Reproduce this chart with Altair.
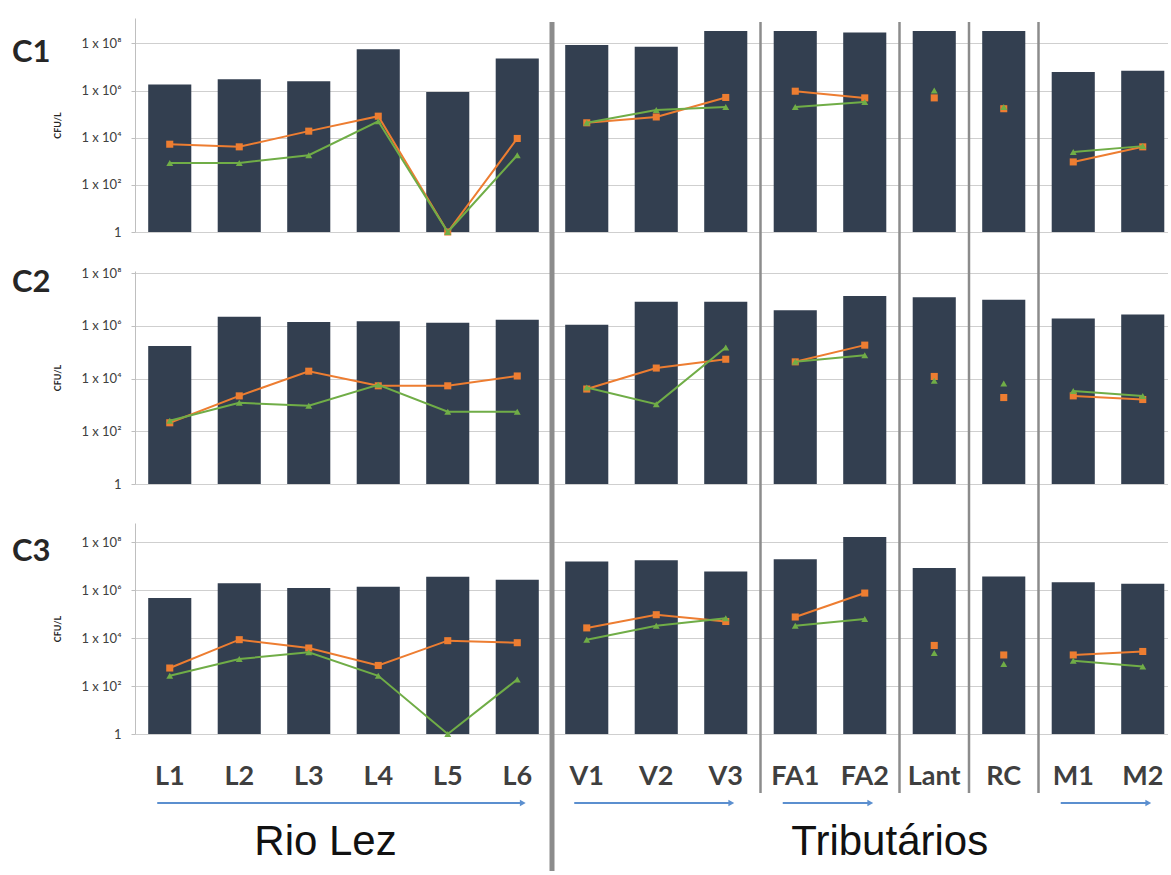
import altair as alt
import pandas as pd

# Sampling sites, their stream group and region
sites = ["L1", "L2", "L3", "L4", "L5", "L6", "V1", "V2", "V3",
         "FA1", "FA2", "Lant", "RC", "M1", "M2"]
groups = ["L", "L", "L", "L", "L", "L", "V", "V", "V",
          "FA", "FA", "Lant", "RC", "M", "M"]
regions = ["Rio Lez"] * 6 + ["Tributários"] * 9

# Campaign C1 (CFU/L)
c1_total = [1.8e6, 3.0e6, 2.5e6, 5.6e7, 8.8e5, 2.3e7, 8.5e7, 7.2e7, 3.4e8,
            3.4e8, 2.9e8, 3.4e8, 3.4e8, 6.2e6, 6.9e6]
c1_orange = [5.3e3, 4.1e3, 1.9e4, 8.2e4, 1, 9.3e3, 4.3e4, 7.6e4, 5.1e5,
             9.4e5, 4.9e5, 4.9e5, 1.7e5, 9.4e2, 4.1e3]
c1_green = [8.5e2, 8.5e2, 1.8e3, 5.0e4, 1, 1.8e3, 4.3e4, 1.5e5, 2.0e5,
            2.0e5, 3.3e5, 1.0e6, 2.0e5, 2.5e3, 4.4e3]

# Campaign C2 (CFU/L)
c2_total = [1.7e5, 2.2e6, 1.4e6, 1.5e6, 1.3e6, 1.7e6, 1.1e6, 8.1e6, 8.1e6,
            3.9e6, 1.35e7, 1.2e7, 9.8e6, 1.9e6, 2.7e6]
c2_orange = [2.1e2, 2.2e3, 1.9e4, 5.3e3, 5.3e3, 1.25e4, 4.0e3, 2.5e4, 5.4e4,
             4.3e4, 1.85e5, 1.2e4, 1.9e3, 2.2e3, 1.6e3]
c2_green = [2.5e2, 1.2e3, 9.3e2, 5.8e3, 5.5e2, 5.5e2, 4.6e3, 1.07e3, 1.5e5,
            4.3e4, 7.7e4, 8.2e3, 6.5e3, 3.4e3, 2.2e3]

# Campaign C3 (CFU/L)
c3_total = [4.8e5, 2.0e6, 1.25e6, 1.4e6, 3.7e6, 2.8e6, 1.6e7, 1.8e7, 6.2e6,
            2.0e7, 1.7e8, 8.5e6, 3.8e6, 2.2e6, 1.9e6]
c3_orange = [5.7e2, 8.7e3, 3.9e3, 7.3e2, 7.9e3, 6.5e3, 2.7e4, 9.6e4, 5.0e4,
             7.7e4, 7.7e5, 5.0e3, 2.0e3, 2.0e3, 2.8e3]
c3_green = [2.7e2, 1.35e3, 2.6e3, 2.7e2, 1, 1.9e2, 8.7e3, 3.3e4, 6.9e4,
            3.3e4, 6.3e4, 2.4e3, 8.3e2, 1.15e3, 6.6e2]

tick_values = [1, 1e2, 1e4, 1e6, 1e8]

# ---- styling -------------------------------------------------------------
BAR = "#333F50"
ORANGE = "#ED7D31"
GREEN = "#70AD47"
SEP = "#8C8C8C"
ARROW = "#5B8FCF"
GRID = "#CFCFCF"
STEP = 69.5          # pixels per site
WIDTH = 1033
SPACING = 39
HALF_BAR = 0.31

x_scale = alt.Scale(domain=[-0.5, -0.5 + WIDTH / STEP], nice=False, zero=False)

base = pd.DataFrame({"site": sites, "group": groups, "region": regions})
base["idx"] = range(len(sites))

# vertical separators between stream groups (thick between regions)
sep_rows = []
for i in range(len(sites) - 1):
    if groups[i] != groups[i + 1]:
        sep_rows.append({"pos": i + 0.5, "thick": regions[i] != regions[i + 1]})
sep_df = pd.DataFrame(sep_rows)
thick_df = sep_df[sep_df.thick]
thin_df = sep_df[~sep_df.thick]

# flow arrows under every multi-site stream
arr_rows = []
for g in dict.fromkeys(groups):
    ids = base.idx[base.group == g].tolist()
    if len(ids) > 1:
        arr_rows.append({"start": ids[0] - 0.18, "end": ids[-1] + 0.08})
arr_df = pd.DataFrame(arr_rows)

reg_df = base.groupby("region", sort=False).idx.mean().reset_index(name="center")

label_expr = ("datum.value < 10 ? '1' : '1 x 10' + "
              "['', '', '²', '', '⁴', '', '⁶', '', '⁸'][round(log(datum.value) / LN10)]")


def y_axis(h):
    return alt.Axis(values=tick_values, labelExpr=label_expr, grid=True,
                    gridColor=GRID, gridWidth=1, domainColor="#BFBFBF",
                    tickColor="#BFBFBF", tickSize=4, labelPadding=10,
                    labelFont="Lato", labelFontSize=13, labelColor="#404040",
                    title="CFU/L", titleFont="Lato", titleFontSize=9,
                    titleFontWeight="bold", titleColor="#262626",
                    titleAngle=-90, titleX=-78, titleY=h / 2,
                    titleAlign="center", titleBaseline="middle")


def panel(name, total, orange, green, ymax, h, sep_top, sep_bottom,
          thick_bottom, last=False):
    d = base.copy()
    d["total"] = total
    d["orange"] = orange
    d["green"] = green
    d["lo"] = d.idx - HALF_BAR
    d["hi"] = d.idx + HALF_BAR
    ys = alt.Scale(type="log", domain=[1, ymax], nice=False)
    ax = y_axis(h)
    X = lambda f: alt.X(f, type="quantitative", scale=x_scale, axis=None)
    Y = lambda f: alt.Y(f, type="quantitative", scale=ys, axis=ax)

    bars = alt.Chart(d).mark_bar(color=BAR).encode(
        x=X("lo"), x2="hi", y=Y("total"), y2=alt.datum(1))

    o_line = alt.Chart(d).mark_line(color=ORANGE, strokeWidth=2).encode(
        x=X("idx"), y=Y("orange"), detail="group:N", order="idx:Q")
    o_pts = alt.Chart(d).mark_point(shape="square", filled=True, size=50,
                                    color=ORANGE, opacity=1).encode(
        x=X("idx"), y=Y("orange"))
    g_line = alt.Chart(d).mark_line(color=GREEN, strokeWidth=2).encode(
        x=X("idx"), y=Y("green"), detail="group:N", order="idx:Q")
    g_pts = alt.Chart(d).mark_point(shape="triangle-up", filled=True, size=48,
                                    color=GREEN, opacity=1).encode(
        x=X("idx"), y=Y("green"))

    thin = alt.Chart(thin_df).mark_rule(color=SEP, strokeWidth=2.5).encode(
        x=X("pos"), y=alt.value(sep_top), y2=alt.value(sep_bottom))
    thick = alt.Chart(thick_df).mark_rule(color=SEP, strokeWidth=5).encode(
        x=X("pos"), y=alt.value(sep_top), y2=alt.value(thick_bottom))

    tag = alt.Chart(pd.DataFrame({"t": [name]})).mark_text(
        font="Lato", fontWeight="bold", fontSize=31, align="left",
        baseline="middle", color="#262626", dy=10).encode(
        text="t:N", x=alt.value(-123), y=alt.datum(1e8))

    layers = [bars, o_line, o_pts, g_line, g_pts, thin, thick, tag]

    if last:
        cats = alt.Chart(d).mark_text(font="Lato", fontWeight="bold",
                                      fontSize=27, color="#3F3F3F",
                                      baseline="middle").encode(
            x=X("idx"), y=alt.value(h + 43), text="site:N")
        arrows = alt.Chart(arr_df).mark_rule(color=ARROW, strokeWidth=2).encode(
            x=X("start"), x2="end", y=alt.value(h + 69))
        heads = alt.Chart(arr_df).mark_point(shape="triangle-right", filled=True,
                                             size=45, color=ARROW,
                                             opacity=1).encode(
            x=X("end"), y=alt.value(h + 69))
        reg_lez = alt.Chart(reg_df[reg_df.region == "Rio Lez"]).mark_text(
            font="Liberation Sans", fontSize=42, color="#111111",
            baseline="alphabetic", dx=-18).encode(
            x=X("center"), y=alt.value(h + 121), text="region:N")
        reg_trib = alt.Chart(reg_df[reg_df.region == "Tributários"]).mark_text(
            font="Liberation Sans", fontSize=42, color="#111111",
            baseline="alphabetic", dx=25).encode(
            x=X("center"), y=alt.value(h + 121), text="region:N")
        layers += [cats, arrows, heads, reg_lez, reg_trib]

    return alt.layer(*layers).properties(width=WIDTH, height=h)


p1 = panel("C1", c1_total, c1_orange, c1_green, 1.2e9, 214,
           4, 214 + SPACING, 214 + SPACING)
p2 = panel("C2", c2_total, c2_orange, c2_green, 1.2e8, 213,
           0, 213 + SPACING, 213 + SPACING)
p3 = panel("C3", c3_total, c3_orange, c3_green, 6.5e8, 211,
           0, 211 + 59, 211 + 137, last=True)

chart = alt.vconcat(p1, p2, p3, spacing=SPACING, bounds="flush").resolve_scale(
    y="independent"
).properties(
    padding={"left": 12, "top": 18, "right": 0, "bottom": 0},
    background="white",
).configure_view(strokeWidth=0)

chart.save("out.html", embed_options={"renderer": "svg", "actions": False})
